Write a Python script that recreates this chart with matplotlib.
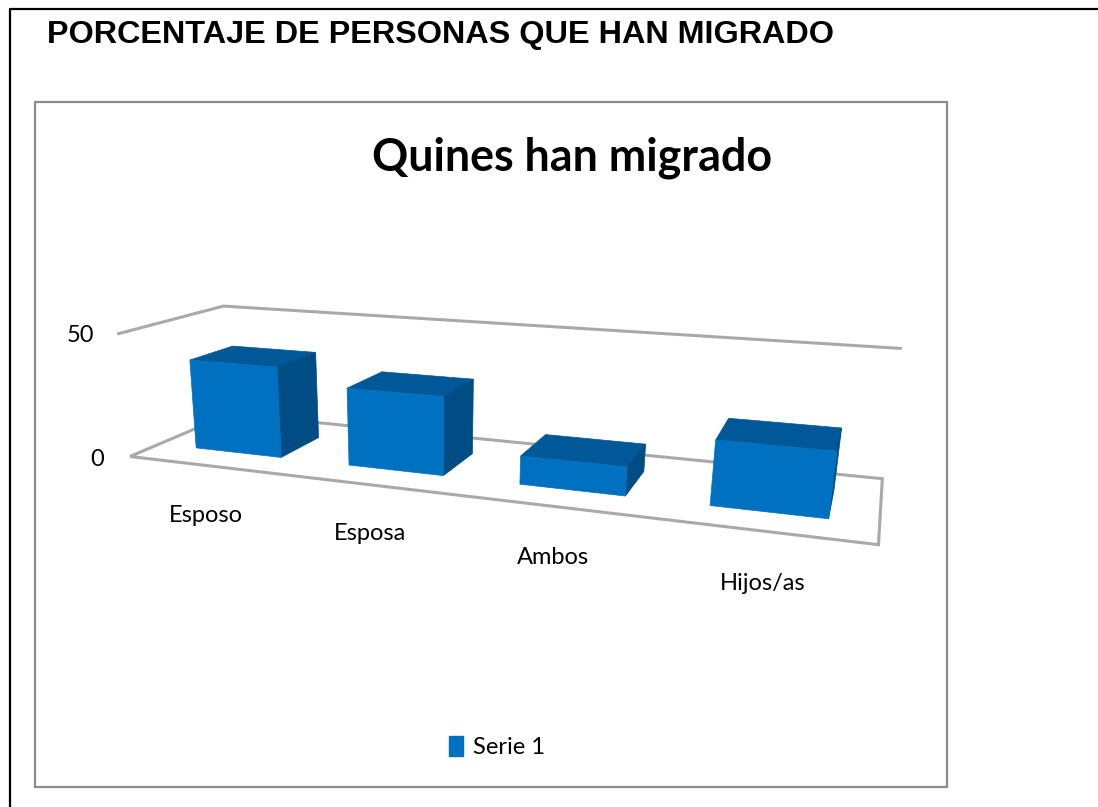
# Quines han migrado - 3D column chart, drawn with a small perspective camera
import numpy as np
import matplotlib
matplotlib.use('Agg')
import matplotlib.pyplot as plt
from matplotlib.patches import Polygon, Patch, Rectangle

heading = 'PORCENTAJE DE PERSONAS QUE HAN MIGRADO'
title = 'Quines han migrado'
categories = ['Esposo', 'Esposa', 'Ambos', 'Hijos/as']
values = [37, 31, 11, 24]
y_ticks = [0, 50]
series_name = 'Serie 1'

FRONT = '#0070C0'
SIDE = '#004D85'
TOP = '#005898'
GRID = '#A9A9A9'

# walls of the plot box: (category pos, depth, value) -> pixel, used to fit the camera
n = len(categories)
box_world = [(0, 0, 0), (n, 0, 0), (n, 1, 0), (0, 1, 0), (0, 0, 50), (0, 1, 50), (n, 1, 50)]
box_pixel = [(132, 457), (878, 546), (883, 477), (228, 414), (117, 332), (225, 307), (900, 349)]


def fit_camera(world, pixel):
    rows, rhs = [], []
    for (x, d, z), (u, v) in zip(world, pixel):
        rows.append([x, d, z, 1, 0, 0, 0, 0, -u * x, -u * d, -u * z])
        rhs.append(u)
        rows.append([0, 0, 0, 0, x, d, z, 1, -v * x, -v * d, -v * z])
        rhs.append(v)
    sol = np.linalg.lstsq(np.array(rows, float), np.array(rhs, float), rcond=None)[0]
    return np.append(sol, 1).reshape(3, 4)


cam = fit_camera(box_world, box_pixel)


def proj(x, d, z):
    p = cam @ np.array([x, d, z, 1.0])
    return p[0] / p[2], p[1] / p[2]


fig = plt.figure(figsize=(10.98, 8.07), dpi=100)
ax = fig.add_axes([0, 0, 1, 1])
ax.set_xlim(0, 1098)
ax.set_ylim(807, 0)
ax.axis('off')

# page border and chart area
ax.plot([10, 10, 1098], [807, 9, 9], color='black', lw=1.6)
ax.add_patch(Rectangle((35, 102), 912, 685, fc='white', ec='#8C8C8C', lw=1.6))

ax.text(47, 35, heading, fontsize=23.35, fontweight='bold', family='Liberation Sans', va='center', ha='left')
ax.text(572, 158, title, fontsize=32.3, fontweight='bold', family='Lato', va='center', ha='center')

# floor and back wall
floor = [proj(0, 0, 0), proj(0, 1, 0), proj(n, 1, 0), proj(n, 0, 0)]
ax.add_patch(Polygon(floor, closed=True, fc='none', ec=GRID, lw=2.2))
wall = np.array([proj(0, 0, 50), proj(0, 1, 50), proj(n, 1, 50)])
ax.plot(wall[:, 0], wall[:, 1], color=GRID, lw=2.2)

# columns
bar_centres = [0.53, 1.515, 2.505, 3.49]
bar_w = 0.56
d0, d1 = 0.27, 0.70
for c, val in zip(bar_centres, values):
    x0, x1 = c - bar_w / 2, c + bar_w / 2
    top = [proj(x0, d0, val), proj(x1, d0, val), proj(x1, d1, val), proj(x0, d1, val)]
    side = [proj(x1, d0, 0), proj(x1, d1, 0), proj(x1, d1, val), proj(x1, d0, val)]
    front = [proj(x0, d0, 0), proj(x1, d0, 0), proj(x1, d0, val), proj(x0, d0, val)]
    ax.add_patch(Polygon(top, closed=True, fc=TOP, ec=TOP, lw=0.5))
    ax.add_patch(Polygon(side, closed=True, fc=SIDE, ec=SIDE, lw=0.5))
    ax.add_patch(Polygon(front, closed=True, fc=FRONT, ec=FRONT, lw=0.5))

# axis labels
tick_x = [104, 94]
tick_y = [459, 336]
for t, xx, yy in zip(y_ticks, tick_x, tick_y):
    ax.text(xx, yy, str(t), fontsize=17, family='Lato', va='center', ha='right')

label_x = [206, 370, 553, 763]
label_y = [515, 534, 557, 583]
for name, lx, ly in zip(categories, label_x, label_y):
    ax.text(lx, ly, name, fontsize=17, family='Lato', va='center', ha='center')

# legend
ax.legend(handles=[Patch(fc=FRONT, ec=FRONT, label=series_name)], loc='center',
          bbox_to_anchor=(497, 747), bbox_transform=ax.transData, frameon=False,
          prop={'family': 'Lato', 'size': 17}, handlelength=0.6, handleheight=0.9,
          handletextpad=0.4)

fig.savefig('out.png', dpi=100)
